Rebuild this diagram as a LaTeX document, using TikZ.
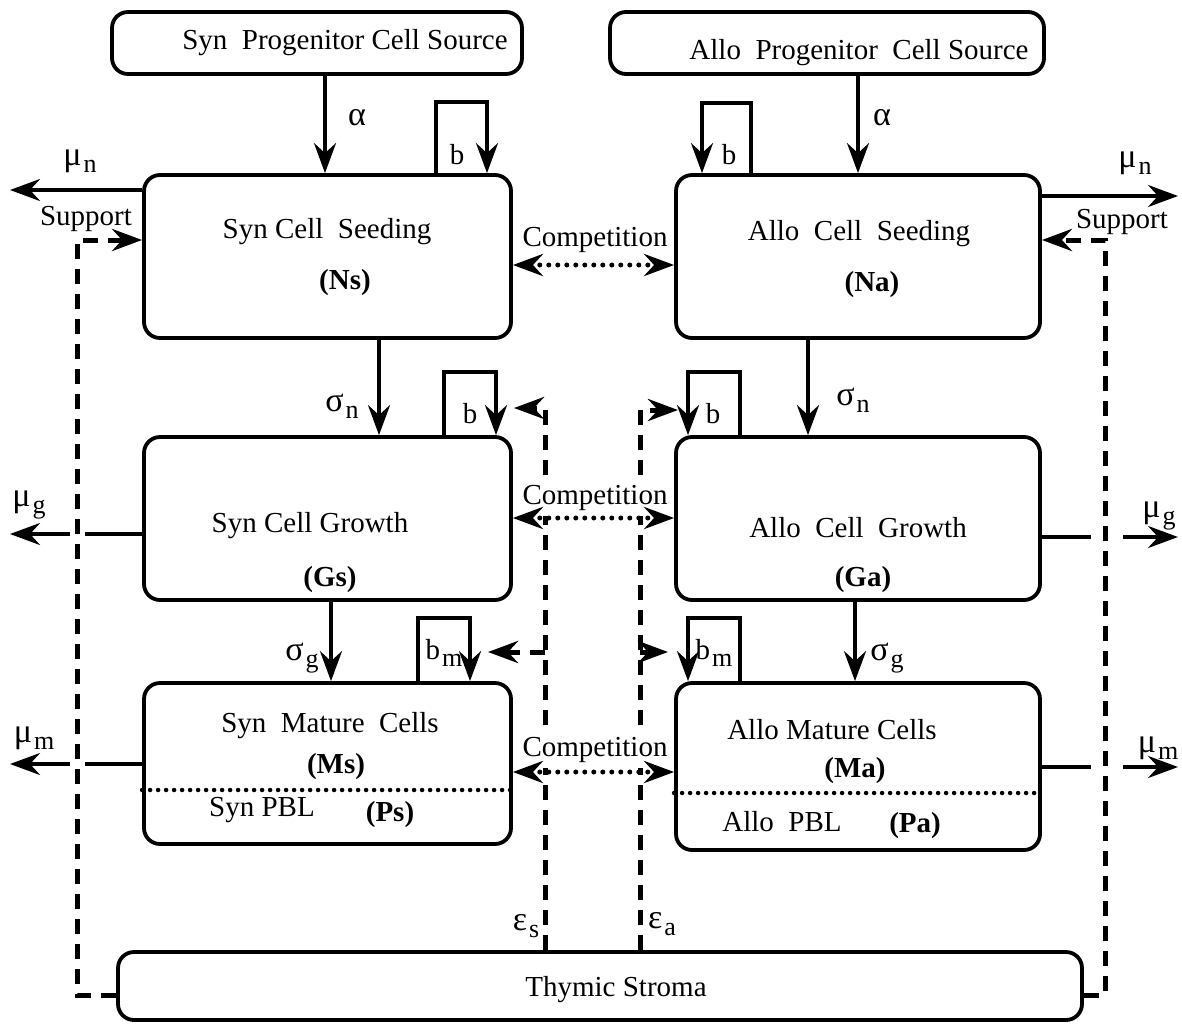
\documentclass[tikz,border=0pt]{standalone}
\usepackage{fontspec}
\setmainfont{Liberation Serif}
\usetikzlibrary{arrows.meta}
% symbol with a lowered index, as in the figure
\newcommand{\gk}[1]{{\fontsize{34}{34}\selectfont #1}}
\newcommand{\sbs}[2]{#1\kern2pt\raisebox{-7pt}{\fontsize{26}{26}\selectfont #2}}

\begin{document}
\begin{tikzpicture}[x=1pt,y=-1pt,>={Stealth[length=30pt,width=22pt,inset=10pt]},
  every node/.style={font=\fontsize{29}{32}\selectfont},
  box/.style={draw,line width=3.8pt,rounded corners=16pt,inner sep=0pt},
  arr/.style={line width=3.8pt},
  supp/.style={line width=5pt,dash pattern=on 15pt off 10pt},
  comp/.style={line width=5pt,dash pattern=on 0pt off 9pt,line cap=round},
  sepline/.style={line width=4.5pt,dash pattern=on 0pt off 8pt,line cap=round},
  complbl/.style={fill=white,inner sep=5pt}]
  \useasboundingbox (0,0) rectangle (1182,1023);

  % boxes
  \node[box,minimum width=410pt,minimum height=62pt] (SynSrc) at (317,43) {};
  \node[box,minimum width=434pt,minimum height=62pt] (AlloSrc) at (827,43) {};
  \node[box,minimum width=367pt,minimum height=163pt] (SynSeed) at (327.5,256.5) {};
  \node[box,minimum width=364pt,minimum height=163pt] (AlloSeed) at (858,256.5) {};
  \node[box,minimum width=367pt,minimum height=163pt] (SynGrow) at (327.5,518.5) {};
  \node[box,minimum width=364pt,minimum height=163pt] (AlloGrow) at (858,518.5) {};
  \node[box,minimum width=367pt,minimum height=161pt] (SynMat) at (327.5,763.5) {};
  \node[box,minimum width=364pt,minimum height=167pt] (AlloMat) at (858,766.5) {};
  \node[box,minimum width=964pt,minimum height=68pt] (Stroma) at (600,986) {};

  % texts in the boxes
  \node (tSynSrc) at (345,43) {Syn~ Progenitor Cell Source};
  \node (tAlloSrc) at (859,53) {Allo~ Progenitor~ Cell Source};
  \node (tSynSeed) at (327,232) {Syn Cell~ Seeding};
  \node (tNs) at (345,283) {\textbf{(Ns)}};
  \node (tAlloSeed) at (859,234) {Allo~ Cell~ Seeding};
  \node (tNa) at (872,285) {\textbf{(Na)}};
  \node (tSynGrow) at (310,526) {Syn Cell Growth};
  \node (tGs) at (330,580) {\textbf{(Gs)}};
  \node (tAlloGrow) at (858,528) {Allo~ Cell~ Growth};
  \node (tGa) at (863,580) {\textbf{(Ga)}};
  \node (tSynMat) at (330,726) {Syn~ Mature~ Cells};
  \node (tMs) at (336,767) {\textbf{(Ms)}};
  \node (tSynPbl) at (262,810) {Syn PBL};
  \node (tPs) at (390,815) {\textbf{(Ps)}};
  \node (tAlloMat) at (832,730) {Allo Mature Cells};
  \node (tMa) at (855,771) {\textbf{(Ma)}};
  \node (tAlloPbl) at (782,822) {Allo~ PBL};
  \node (tPa) at (915,826) {\textbf{(Pa)}};
  \node (tStroma) at (616,990) {Thymic Stroma};

  % PBL separators
  \coordinate (ps) at (0,790);
  \coordinate (pa) at (0,793);
  \draw[sepline] (SynMat.west |- ps) -- (SynMat.east |- ps);
  \draw[sepline] (AlloMat.west |- pa) -- (AlloMat.east |- pa);

  % source flows
  \coordinate (aS) at (325,0);
  \coordinate (aA) at (858,0);
  \draw[arr,->] (SynSrc.south -| aS) -- (SynSeed.north -| aS);
  \draw[arr,->] (AlloSrc.south -| aA) -- (AlloSeed.north -| aA);
  \node (alS) at (357,118) {\gk{α}};
  \node (alA) at (882,118) {\gk{α}};

  % maturation flows
  \coordinate (snS) at (379,0);
  \coordinate (snA) at (808,0);
  \coordinate (sgS) at (331,0);
  \coordinate (sgA) at (855,0);
  \draw[arr,->] (SynSeed.south -| snS) -- (SynGrow.north -| snS);
  \draw[arr,->] (AlloSeed.south -| snA) -- (AlloGrow.north -| snA);
  \draw[arr,->] (SynGrow.south -| sgS) -- (SynMat.north -| sgS);
  \draw[arr,->] (AlloGrow.south -| sgA) -- (AlloMat.north -| sgA);
  \node (snlS) at (342,406) {\sbs{\gk{σ}}{n}};
  \node (snlA) at (853,400) {\sbs{\gk{σ}}{n}};
  \node (sglS) at (302,658) {\sbs{\gk{σ}}{g}};
  \node (sglA) at (887,658) {\sbs{\gk{σ}}{g}};

  % self-renewal loops
  \coordinate (b1l) at (436,102);
  \coordinate (b1r) at (487,102);
  \coordinate (b2l) at (751,103);
  \coordinate (b2r) at (702,103);
  \coordinate (b3l) at (444,372);
  \coordinate (b3r) at (496,372);
  \coordinate (b4l) at (740,372);
  \coordinate (b4r) at (688,372);
  \coordinate (b5l) at (418,618);
  \coordinate (b5r) at (470,618);
  \coordinate (b6l) at (740,618);
  \coordinate (b6r) at (688,618);
  \draw[arr,->] (SynSeed.north -| b1l) -- (b1l) -- (b1r) -- (SynSeed.north -| b1r);
  \draw[arr,->] (AlloSeed.north -| b2l) -- (b2l) -- (b2r) -- (AlloSeed.north -| b2r);
  \draw[arr,->] (SynGrow.north -| b3l) -- (b3l) -- (b3r) -- (SynGrow.north -| b3r);
  \draw[arr,->] (AlloGrow.north -| b4l) -- (b4l) -- (b4r) -- (AlloGrow.north -| b4r);
  \draw[arr,->] (SynMat.north -| b5l) -- (b5l) -- (b5r) -- (SynMat.north -| b5r);
  \draw[arr,->] (AlloMat.north -| b6l) -- (b6l) -- (b6r) -- (AlloMat.north -| b6r);
  \node (bl1) at (457,155) {b};
  \node (bl2) at (729,155) {b};
  \node (bl3) at (470,414) {b};
  \node (bl4) at (713,414) {b};
  \node (bl5) at (444,653) {\sbs{b}{m}};
  \node (bl6) at (714,653) {\sbs{b}{m}};

  % stromal signals
  \coordinate (eSt) at (545,408);
  \coordinate (eSa) at (514,408);
  \coordinate (eSm) at (545,652);
  \coordinate (eSma) at (488,652);
  \coordinate (eAt) at (640,410);
  \coordinate (eAa) at (678,410);
  \coordinate (eAm) at (640,652);
  \coordinate (eAma) at (668,652);
  \draw[supp,->] (Stroma.north -| eSt) -- (eSt) -- (eSa);
  \draw[supp,->] (eSm) -- (eSma);
  \draw[supp,->] (Stroma.north -| eAt) -- (eAt) -- (eAa);
  \draw[supp,->] (eAm) -- (eAma);
  \node (epS) at (526,926) {\sbs{\gk{ε}}{s}};
  \node (epA) at (662,924) {\sbs{\gk{ε}}{a}};

  % competition
  \coordinate (c1) at (0,265);
  \coordinate (c2) at (0,518);
  \coordinate (c3) at (0,772);
  \node[complbl] (cp1) at (595,240) {Competition};
  \node[complbl] (cp2) at (595,498) {Competition};
  \node[complbl] (cp3) at (595,750) {Competition};
  \draw[comp,<->] (SynSeed.east |- c1) -- (AlloSeed.west |- c1);
  \draw[comp,<->] (SynGrow.east |- c2) -- (AlloGrow.west |- c2);
  \draw[comp,<->] (SynMat.east |- c3) -- (AlloMat.west |- c3);

  % deaths
  \coordinate (mnL) at (10,190);
  \coordinate (mnR) at (1178,196);
  \draw[arr,->] (SynSeed.west |- mnL) -- (mnL);
  \draw[arr,->] (AlloSeed.east |- mnR) -- (mnR);
  \node (mnlL) at (80,161) {\sbs{\gk{μ}}{n}};
  \node (mnlR) at (1135,163) {\sbs{\gk{μ}}{n}};
  \coordinate (mgL1) at (85,534);
  \coordinate (mgL2) at (70,534);
  \coordinate (mgL3) at (10,534);
  \coordinate (mgR1) at (1091,537);
  \coordinate (mgR2) at (1123,537);
  \coordinate (mgR3) at (1178,537);
  \draw[arr] (SynGrow.west |- mgL1) -- (mgL1);
  \draw[arr,->] (mgL2) -- (mgL3);
  \draw[arr] (AlloGrow.east |- mgR1) -- (mgR1);
  \draw[arr,->] (mgR2) -- (mgR3);
  \node (mglL) at (29,505) {\sbs{\gk{μ}}{g}};
  \node (mglR) at (1159,516) {\sbs{\gk{μ}}{g}};
  \coordinate (mmL1) at (85,764);
  \coordinate (mmL2) at (70,764);
  \coordinate (mmL3) at (10,764);
  \coordinate (mmR1) at (1091,767);
  \coordinate (mmR2) at (1123,767);
  \coordinate (mmR3) at (1178,767);
  \draw[arr] (SynMat.west |- mmL1) -- (mmL1);
  \draw[arr,->] (mmL2) -- (mmL3);
  \draw[arr] (AlloMat.east |- mmR1) -- (mmR1);
  \draw[arr,->] (mmR2) -- (mmR3);
  \node (mmlL) at (34,738) {\sbs{\gk{μ}}{m}};
  \node (mmlR) at (1158,748) {\sbs{\gk{μ}}{m}};

  % stromal support
  \coordinate (spLb) at (77,995);
  \coordinate (spLt) at (77,240);
  \coordinate (spRb) at (1105,995);
  \coordinate (spRt) at (1105,240);
  \draw[supp,->] (Stroma.west |- spLb) -- (spLb) -- (spLt) -- (SynSeed.west |- spLt);
  \draw[supp,->] (Stroma.east |- spRb) -- (spRb) -- (spRt) -- (AlloSeed.east |- spRt);
  \node (spL) at (86,219) {Support};
  \node (spR) at (1122,222) {Support};
\end{tikzpicture}
\end{document}
